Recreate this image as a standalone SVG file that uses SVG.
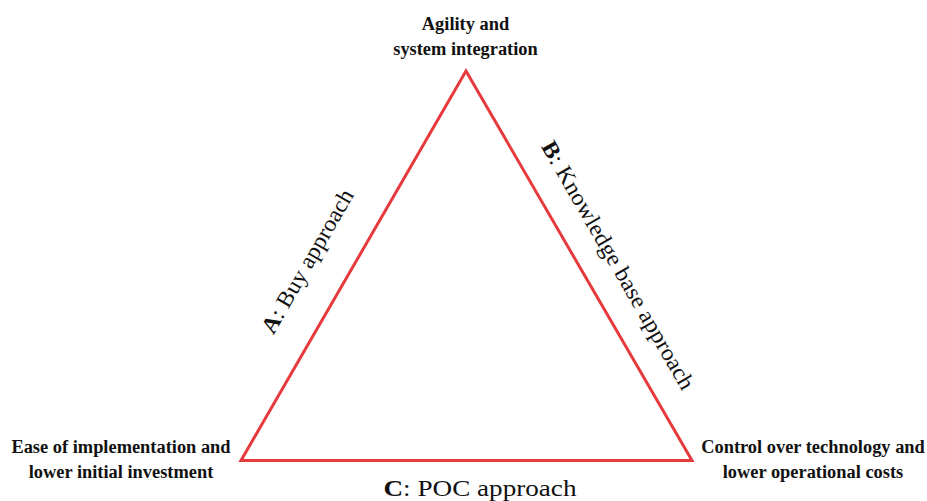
<svg xmlns="http://www.w3.org/2000/svg" width="927" height="501" viewBox="0 0 927 501">
  <style>
    .node { font-family: "Liberation Serif", "Times New Roman", serif; font-weight: bold; font-size: 18.4px; fill: #111; text-anchor: middle; }
    .edge-label { font-family: "Liberation Serif", "Times New Roman", serif; font-size: 23px; fill: #111; text-anchor: middle; }
    .edge-label .key { font-weight: bold; }
    .side { fill: none; stroke: #e63a3c; stroke-width: 3; stroke-linejoin: miter; }
  </style>
  <rect width="927" height="501" fill="#ffffff"/>

  <!-- triangle sides -->
  <g id="connectors">
    <polygon class="side" points="241,460.5 466,71 692,460.5"/>
  </g>

  <!-- side labels -->
  <g id="label-a">
    <text class="edge-label" transform="translate(314,265) rotate(-60)" textLength="162" lengthAdjust="spacingAndGlyphs"><tspan class="key">A</tspan>: Buy approach</text>
  </g>
  <g id="label-b">
    <text class="edge-label" transform="translate(611.5,269) rotate(60)" textLength="283" lengthAdjust="spacingAndGlyphs"><tspan class="key">B</tspan>: Knowledge base approach</text>
  </g>
  <g id="label-c">
    <text class="edge-label" x="480" y="496" textLength="193" lengthAdjust="spacingAndGlyphs"><tspan class="key">C</tspan>: POC approach</text>
  </g>

  <!-- corner nodes -->
  <g id="node-top">
    <text class="node" x="465.5" y="30">Agility and</text>
    <text class="node" x="465.5" y="55">system integration</text>
  </g>
  <g id="node-left">
    <text class="node" x="121" y="453">Ease of implementation and</text>
    <text class="node" x="121" y="478">lower initial investment</text>
  </g>
  <g id="node-right">
    <text class="node" x="813" y="453">Control over technology and</text>
    <text class="node" x="813" y="478">lower operational costs</text>
  </g>
</svg>
